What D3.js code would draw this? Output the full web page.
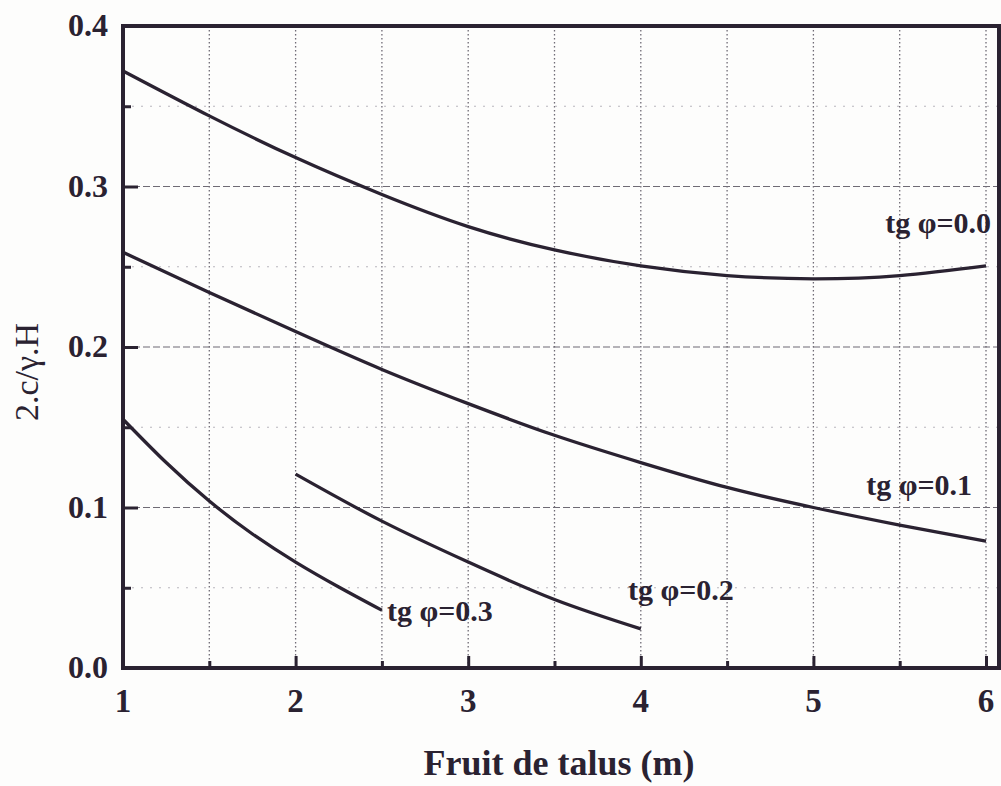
<!DOCTYPE html>
<html>
<head>
<meta charset="utf-8">
<script src="https://cdn.jsdelivr.net/npm/d3@7"></script>
<style>
  html, body { margin: 0; padding: 0; background: #fdfdfc; }
  svg { display: block; }
  text { font-family: "Liberation Serif", "Times New Roman", serif; fill: #2a2231; }
</style>
</head>
<body>
<svg id="chart" width="1001" height="786"></svg>
<script>
// Abscissa samples (fruit de talus, m)
const fruitFull = [1, 1.5, 2, 2.5, 3, 3.5, 4, 4.5, 5, 5.5, 6];
const fruitMid  = [2, 2.5, 3, 3.5, 4];
const fruitLow  = [1, 1.25, 1.5, 1.75, 2, 2.25, 2.5];

// 2.c/γ.H for each tg φ
const tg00 = [0.372, 0.344, 0.318, 0.295, 0.275, 0.2605, 0.2505, 0.2445, 0.2425, 0.2445, 0.2505];
const tg01 = [0.259, 0.234, 0.2096, 0.186, 0.1647, 0.145, 0.128, 0.1125, 0.100, 0.089, 0.079];
const tg02 = [0.1208, 0.0915, 0.066, 0.0427, 0.0244];
const tg03 = [0.155, 0.128, 0.104, 0.0835, 0.066, 0.0505, 0.036];

// Curve labels
const curveLabels = ["tg φ=0.0", "tg φ=0.1", "tg φ=0.2", "tg φ=0.3"];

// Tick values
const xMajorTicks = [1, 2, 3, 4, 5, 6];
const xMinorTicks = [1.5, 2.5, 3.5, 4.5, 5.5];
const yMajorTicks = [0.0, 0.1, 0.2, 0.3, 0.4];
const yMinorTicks = [0.05, 0.15, 0.25, 0.35];

const xTitle = "Fruit de talus (m)";
const yTitle = "2.c/γ.H";

const ink = "#2a2231";
const svg = d3.select("#chart");

const x = d3.scaleLinear().domain([1, 6]).range([123, 986]);
const y = d3.scaleLinear().domain([0, 0.4]).range([668, 26]);
const xRight = 999;

// ---- grid ----
const grid = svg.append("g");
grid.selectAll(".vgrid").data(xMinorTicks.concat(xMajorTicks.slice(1)))
  .join("line")
  .attr("x1", d => x(d)).attr("x2", d => x(d))
  .attr("y1", y(0.4)).attr("y2", y(0))
  .attr("stroke", "#6f6b75").attr("stroke-width", 1.3)
  .attr("stroke-dasharray", "1.5,2.5");
grid.selectAll(".hmaj").data(yMajorTicks.slice(1, 4))
  .join("line")
  .attr("x1", x(1)).attr("x2", xRight)
  .attr("y1", d => y(d)).attr("y2", d => y(d))
  .attr("stroke", "#6f6b75").attr("stroke-width", 1.2)
  .attr("stroke-dasharray", "7,3");
grid.selectAll(".hmin").data(yMinorTicks)
  .join("line")
  .attr("x1", x(1)).attr("x2", xRight)
  .attr("y1", d => y(d)).attr("y2", d => y(d))
  .attr("stroke", "#b9b6bd").attr("stroke-width", 1.2)
  .attr("stroke-dasharray", "2,7");

// ---- axes ----
const xAxisMajor = d3.axisTop(x).tickValues(xMajorTicks).tickSize(12).tickFormat("");
const xAxisMinor = d3.axisTop(x).tickValues(xMinorTicks).tickSize(7).tickFormat("");
const yAxisMajor = d3.axisRight(y).tickValues(yMajorTicks).tickSize(15).tickFormat("");
const yAxisMinor = d3.axisRight(y).tickValues(yMinorTicks).tickSize(8).tickFormat("");

function styleAxis(g) {
  g.select(".domain").remove();
  g.selectAll(".tick line").attr("stroke", ink).attr("stroke-width", 3);
}
svg.append("g").attr("transform", `translate(0,${y(0)})`).call(xAxisMajor).call(styleAxis);
svg.append("g").attr("transform", `translate(0,${y(0)})`).call(xAxisMinor).call(styleAxis);
svg.append("g").attr("transform", `translate(${x(1)},0)`).call(yAxisMajor).call(styleAxis);
svg.append("g").attr("transform", `translate(${x(1)},0)`).call(yAxisMinor).call(styleAxis);

// frame
svg.append("path")
  .attr("d", `M${xRight},${y(0.4)} L${x(1)},${y(0.4)} L${x(1)},${y(0)} L${xRight},${y(0)} Z`)
  .attr("fill", "none").attr("stroke", ink).attr("stroke-width", 4)
  .attr("stroke-linejoin", "miter");

// tick labels
svg.append("g").selectAll("text").data(xMajorTicks).join("text")
  .attr("x", d => x(d)).attr("y", 712)
  .attr("text-anchor", "middle")
  .attr("font-size", 33).attr("font-weight", "bold")
  .text(d => d3.format("d")(d));
svg.append("g").selectAll("text").data(yMajorTicks).join("text")
  .attr("x", 108).attr("y", d => y(d) + 10)
  .attr("text-anchor", "end")
  .attr("font-size", 32).attr("font-weight", "bold")
  .text(d => d3.format(".1f")(d));

// axis titles
svg.append("text")
  .attr("x", 559).attr("y", 775)
  .attr("text-anchor", "middle")
  .attr("font-size", 36).attr("font-weight", "bold")
  .text(xTitle);
svg.append("text")
  .attr("transform", "translate(38,372) rotate(-90)")
  .attr("text-anchor", "middle")
  .attr("font-size", 34)
  .text(yTitle);

// ---- curves ----
const line = d3.line()
  .x(d => x(d[0])).y(d => y(d[1]))
  .curve(d3.curveNatural);

const series = [
  { xs: fruitFull, ys: tg00 },
  { xs: fruitFull, ys: tg01 },
  { xs: fruitMid,  ys: tg02 },
  { xs: fruitLow,  ys: tg03 }
];
svg.append("g").selectAll("path").data(series).join("path")
  .attr("d", s => line(d3.zip(s.xs, s.ys)))
  .attr("fill", "none").attr("stroke", ink).attr("stroke-width", 3.3)
  .attr("stroke-linecap", "butt");

// curve labels
const labelPos = [
  { x: 991, y: 233, anchor: "end" },
  { x: 972, y: 495, anchor: "end" },
  { x: 628, y: 600, anchor: "start" },
  { x: 387, y: 621, anchor: "start" }
];
svg.append("g").selectAll("text").data(curveLabels).join("text")
  .attr("x", (d, i) => labelPos[i].x).attr("y", (d, i) => labelPos[i].y)
  .attr("text-anchor", (d, i) => labelPos[i].anchor)
  .attr("font-size", 30).attr("font-weight", "bold")
  .text(d => d);
</script>
</body>
</html>
